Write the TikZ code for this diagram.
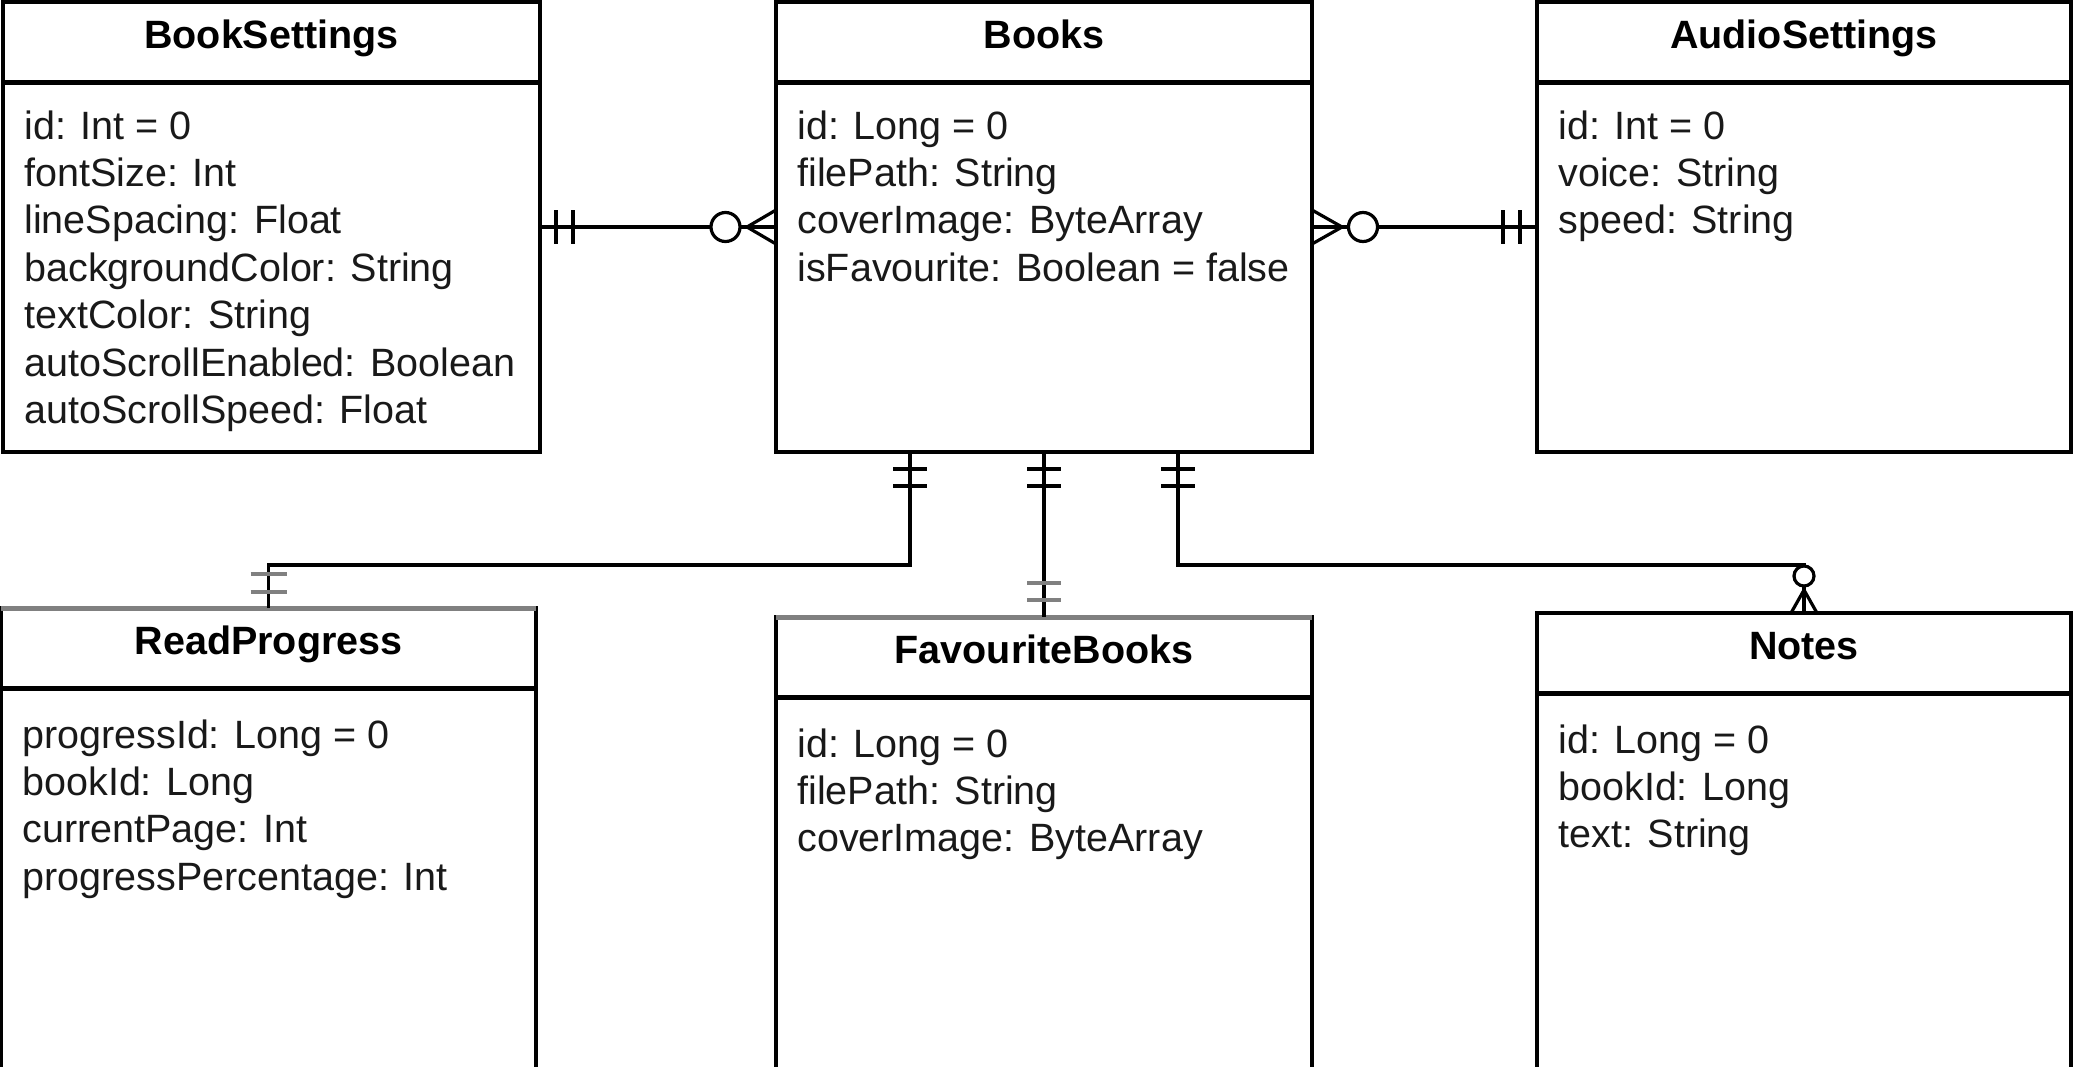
\documentclass[tikz,border=0pt]{standalone}
\usepackage{fontspec}
\setmainfont{Liberation Sans}
\usetikzlibrary{calc}
\tikzset{
  entitybox/.style={draw=black, line width=1.65pt, inner sep=0pt, outer sep=0pt, rectangle},
  divline/.style={line width=2.5pt, black},
  hdr/.style={font=\bfseries\fontsize{19.75}{23.7}\selectfont, anchor=base, inner sep=0pt},
  attr/.style={font=\fontsize{19.75}{23.7}\selectfont, anchor=base west, inner sep=0pt, text=black!90},
  erline/.style={line width=1.6pt, black},
  ermark/.style={line width=1.6pt, black},
  graymark/.style={line width=1.6pt, black!50},
}
% #1 name, #2 x, #3 y, #4 w, #5 h, #6 title, #7 first baseline offset, #8 attributes
\newcommand\erentity[8]{%
  \node[entitybox, anchor=north west, minimum width={#4*0.5pt}, minimum height={#5*0.5pt}] (#1) at (#2,#3) {};
  \node[hdr] (#1-title) at ($(#1.north)+(0,46)$) {#6};
  \draw[divline] ($(#1.north west)+(0,80)$) -- ($(#1.north east)+(0,80)$);
  \foreach \t [count=\i from 0] in {#8}
    \node[attr] (#1-\i) at ($(#1.north west)+(21,{#7+47.4*\i})$) {\t};
}
\begin{document}
\begin{tikzpicture}[x=0.5pt,y=-0.5pt]
\useasboundingbox (0,0) rectangle (2073,1066);
\fill[white] (0,0) rectangle (2073,1066);
\clip (0,0) rectangle (2073,1066);

\erentity{bs}{3}{2}{537}{450}{BookSettings}{137}{id: Int = 0, fontSize: Int, lineSpacing: Float, backgroundColor: String, textColor: String, autoScrollEnabled: Boolean, autoScrollSpeed: Float}
\erentity{bk}{776}{2}{536}{450}{Books}{137}{id: Long = 0, filePath: String, coverImage: ByteArray, isFavourite: Boolean = false}
\erentity{as}{1537}{2}{534}{450}{AudioSettings}{137}{id: Int = 0, voice: String, speed: String}
\erentity{rp}{1}{608}{535}{490}{ReadProgress}{140}{progressId: Long = 0, bookId: Long, currentPage: Int, progressPercentage: Int}
\erentity{fb}{776}{617}{536}{490}{FavouriteBooks}{140}{id: Long = 0, filePath: String, coverImage: ByteArray}
\erentity{nt}{1537}{613}{534}{490}{Notes}{140}{id: Long = 0, bookId: Long, text: String}

% gray-rendered top edges
\draw[line width=2.5pt, black!50] (rp.north west) -- (rp.north east);
\draw[line width=2.5pt, black!50] (fb.north west) -- (fb.north east);

% connectors
\coordinate (mid) at (0,565);
\coordinate (b1) at ($(bk.south west)!0.25!(bk.south east)$);
\coordinate (b3) at ($(bk.south west)!0.75!(bk.south east)$);
\draw[erline] (bs.east) -- (bk.west);
\draw[erline] (bk.east) -- (as.west);
\draw[erline] (b1) -- (b1 |- mid) -- (rp.north |- mid) -- (rp.north);
\draw[erline] (bk.south) -- (fb.north);
\draw[erline] (b3) -- (b3 |- mid) -- (nt.north |- mid) -- (nt.north);

% BookSettings side: mandatory one
\draw[ermark] ($(bs.east)+(16,-17)$) -- ++(0,34);
\draw[ermark] ($(bs.east)+(33,-17)$) -- ++(0,34);
% Books left: zero or many
\draw[erline] ($(bk.west)+(-29,0)$) -- ($(bk.west)+(0,-17)$);
\draw[erline] ($(bk.west)+(-29,0)$) -- ($(bk.west)+(0,17)$);
\draw[erline, fill=white] ($(bk.west)+(-50.5,0)$) circle[radius=14.5];
% Books right: zero or many
\draw[erline] ($(bk.east)+(30,0)$) -- ($(bk.east)+(0,-17)$);
\draw[erline] ($(bk.east)+(30,0)$) -- ($(bk.east)+(0,17)$);
\draw[erline, fill=white] ($(bk.east)+(51,0)$) circle[radius=14.5];
% AudioSettings side: mandatory one
\draw[ermark] ($(as.west)+(-17,-17)$) -- ++(0,34);
\draw[ermark] ($(as.west)+(-34,-17)$) -- ++(0,34);

% Books bottom: mandatory one (x3)
\foreach \p in {b1, bk.south, b3} {
  \draw[ermark] ($(\p)+(-17,17)$) -- ++(34,0);
  \draw[ermark] ($(\p)+(-17,34)$) -- ++(34,0);
}
% ReadProgress top
\draw[graymark] ($(rp.north)+(-18,-16)$) -- ++(36,0);
\draw[graymark] ($(rp.north)+(-18,-34)$) -- ++(36,0);
% FavouriteBooks top
\draw[graymark] ($(fb.north)+(-17,-17)$) -- ++(34,0);
\draw[graymark] ($(fb.north)+(-17,-34)$) -- ++(34,0);
% Notes top: zero or many (small)
\draw[erline] ($(nt.north)+(0,-23)$) -- ($(nt.north)+(-13,0)$);
\draw[erline] ($(nt.north)+(0,-23)$) -- ($(nt.north)+(13,0)$);
\draw[erline, fill=white] ($(nt.north)+(0,-37)$) circle[radius=10];
\end{tikzpicture}
\end{document}
